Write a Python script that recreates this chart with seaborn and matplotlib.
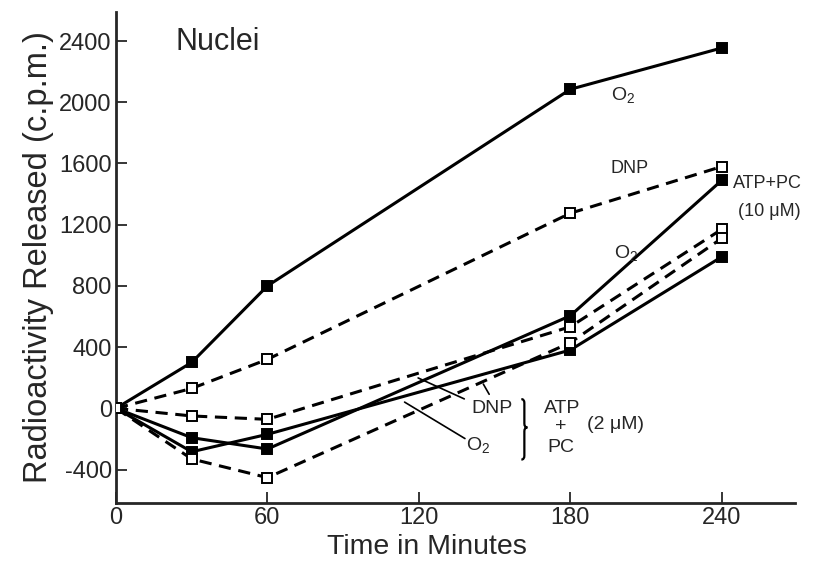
import matplotlib
matplotlib.use("Agg")
import matplotlib.pyplot as plt
from matplotlib import font_manager
from matplotlib.path import Path
from matplotlib.patches import PathPatch
import seaborn as sns
import pandas as pd

# ---- data ----
time_min = [0, 30, 60, 180, 240]
o2_control = [0, 300, 800, 2085, 2355]
dnp_control = [0, 130, 320, 1275, 1580]
o2_atp_pc_10 = [0, -192, -266, 605, 1490]
dnp_atp_pc_10 = [0, -50, -72, 533, 1170]
o2_atp_pc_2 = [0, -284, -170, 381, 990]
dnp_atp_pc_2 = [0, -331, -453, 429, 1111]

x_ticks = [0, 60, 120, 180, 240]
y_ticks = [-400, 0, 400, 800, 1200, 1600, 2000, 2400]

sns.set_style("ticks")
plt.rcParams["font.family"] = ["Liberation Sans", "DejaVu Sans"]
plt.rcParams["mathtext.default"] = "regular"

installed = {f.name for f in font_manager.fontManager.ttflist}
if "Liberation Sans Narrow" in installed:
    xl_family, xl_size = ["Liberation Sans Narrow", "Liberation Sans"], 23
else:
    xl_family, xl_size = ["Liberation Sans", "DejaVu Sans"], 20.5

fig = plt.figure(figsize=(8.18, 5.75), dpi=100)
ax = fig.add_axes([0.1418, 0.1257, 0.830, 0.8534])

series = [
    ("O2", o2_control, True, False),
    ("DNP", dnp_control, False, True),
    ("O2 ATP+PC 10", o2_atp_pc_10, True, False),
    ("DNP ATP+PC 10", dnp_atp_pc_10, False, True),
    ("O2 ATP+PC 2", o2_atp_pc_2, True, False),
    ("DNP ATP+PC 2", dnp_atp_pc_2, False, True),
]

for name, vals, filled, dashed in series:
    df = pd.DataFrame({"time": time_min, "value": vals})
    sns.lineplot(
        data=df, x="time", y="value", ax=ax, color="black",
        linewidth=2.2, linestyle=(0, (4, 2.5)) if dashed else "-",
        marker="s", markersize=7,
        markerfacecolor="black" if filled else "white",
        markeredgecolor="black", markeredgewidth=1.4,
        legend=False, zorder=3,
    )

ax.set_xlim(0, 269)
ax.set_ylim(-617, 2590)
ax.set_xticks(x_ticks)
ax.set_yticks(y_ticks)
ax.set_xticklabels([str(t) for t in x_ticks])
ax.set_yticklabels([str(t) for t in y_ticks])
ax.tick_params(direction="in", length=8, width=1.3, labelsize=17, pad=3)
for s in ["top", "right"]:
    ax.spines[s].set_visible(False)
for s in ["left", "bottom"]:
    ax.spines[s].set_linewidth(2)

ax.set_xlabel("Time in Minutes", fontsize=xl_size, family=xl_family)
ax.xaxis.set_label_coords(0.458, -0.064, transform=ax.transAxes)
ax.xaxis.label.set_va("top")
ax.set_ylabel("Radioactivity Released (c.p.m.)", fontsize=23.5, labelpad=4)

# ---- text annotations ----
ax.text(23.4, 2396, "Nuclei", fontsize=22, ha="left", va="center")
ax.text(201, 2048, "O$_2$", fontsize=14, ha="center", va="center")
ax.text(203.3, 1569, "DNP", fontsize=13, ha="center", va="center")
ax.text(202, 1013, "O$_2$", fontsize=14, ha="center", va="center")
ax.text(244.5, 1470, "ATP+PC", fontsize=13, ha="left", va="center")
ax.text(246.3, 1285, "(10 μM)", fontsize=13, ha="left", va="center")

ax.text(149, 0, "DNP", fontsize=14, ha="center", va="center")
ax.text(143.4, -240, "O$_2$", fontsize=14, ha="center", va="center")
ax.text(176.8, 0, "ATP", fontsize=14, ha="center", va="center")
ax.text(176.2, -120, "+", fontsize=14, ha="center", va="center")
ax.text(176.2, -255, "PC", fontsize=14, ha="center", va="center")
ax.text(198, -109, "(2 μM)", fontsize=14, ha="center", va="center")

# curly brace (drawn) grouping DNP / O2
bx, w = 160.6, 2.4
ytop, ymid, ybot, d = 60, -125, -335, 25
verts = [
    (bx, ytop), (bx + w / 2, ytop), (bx + w / 2, ytop - d),
    (bx + w / 2, ymid + d),
    (bx + w / 2, ymid), (bx + w, ymid),
    (bx + w / 2, ymid), (bx + w / 2, ymid - d),
    (bx + w / 2, ybot + d),
    (bx + w / 2, ybot), (bx, ybot),
]
codes = [Path.MOVETO, Path.CURVE3, Path.CURVE3, Path.LINETO,
         Path.CURVE3, Path.CURVE3, Path.CURVE3, Path.CURVE3,
         Path.LINETO, Path.CURVE3, Path.CURVE3]
ax.add_patch(PathPatch(Path(verts, codes), fill=False, lw=1.6,
                       edgecolor="black"))

# leader lines
ax.annotate("", xy=(118.7, 206), xytext=(139, 54),
            arrowprops=dict(arrowstyle="-", lw=1.2, color="black"))
ax.annotate("", xy=(145, 174), xytext=(148.4, 76),
            arrowprops=dict(arrowstyle="-", lw=1.2, color="black"))
ax.annotate("", xy=(113.4, 50), xytext=(139.2, -207),
            arrowprops=dict(arrowstyle="-", lw=1.2, color="black"))

fig.savefig("out.png", dpi=100)
